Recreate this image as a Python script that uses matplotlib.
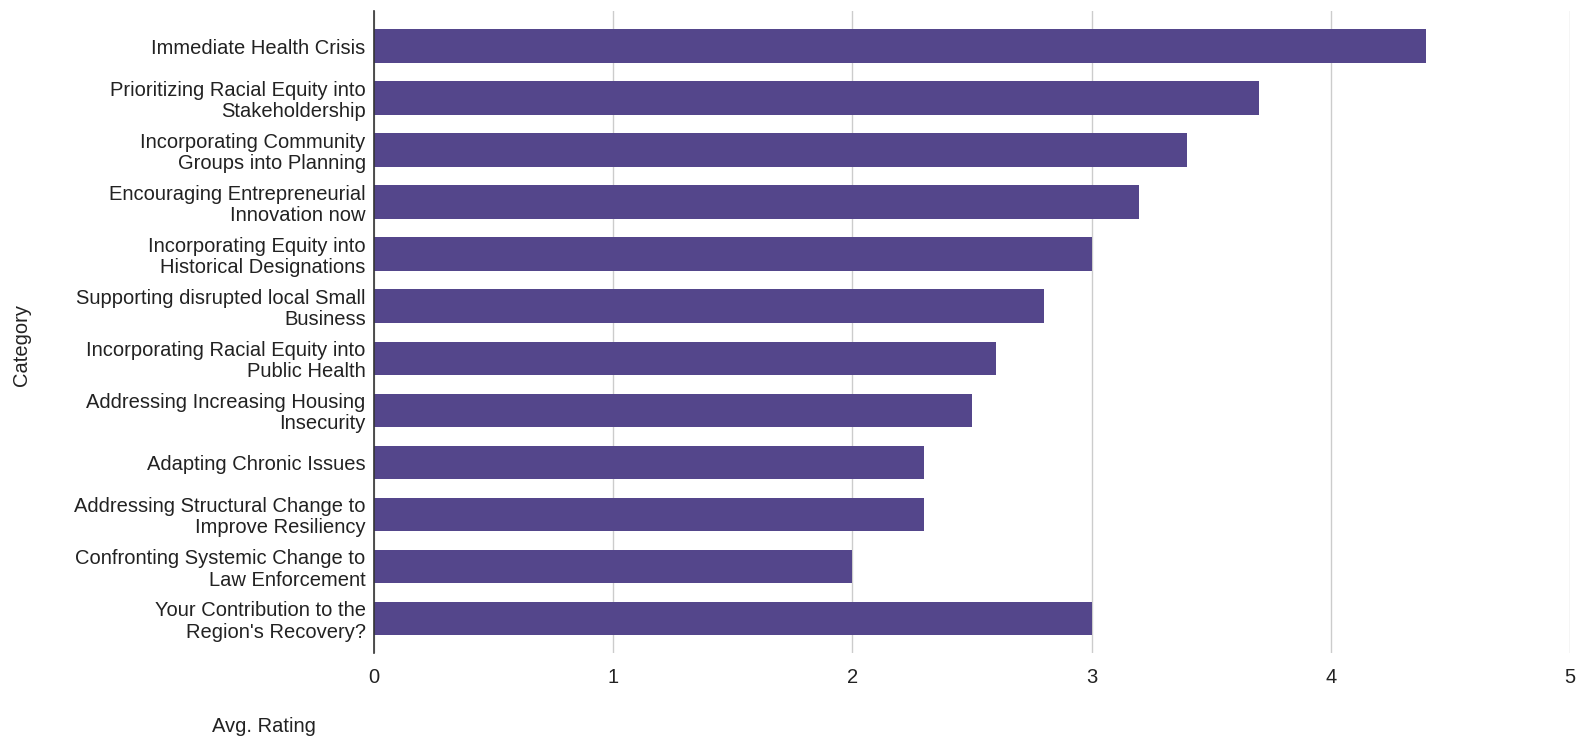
import matplotlib
matplotlib.use("Agg")
import matplotlib.pyplot as plt

categories = [
    "Immediate Health Crisis",
    "Prioritizing Racial Equity into\nStakeholdership",
    "Incorporating Community\nGroups into Planning",
    "Encouraging Entrepreneurial\nInnovation now",
    "Incorporating Equity into\nHistorical Designations",
    "Supporting disrupted local Small\nBusiness",
    "Incorporating Racial Equity into\nPublic Health",
    "Addressing Increasing Housing\nInsecurity",
    "Adapting Chronic Issues",
    "Addressing Structural Change to\nImprove Resiliency",
    "Confronting Systemic Change to\nLaw Enforcement",
    "Your Contribution to the\nRegion's Recovery?",
]
values = [4.4, 3.7, 3.4, 3.2, 3.0, 2.8, 2.6, 2.5, 2.3, 2.3, 2.0, 3.0]
xticks = [0, 1, 2, 3, 4, 5]

plt.rcParams['font.family'] = ['Liberation Sans', 'DejaVu Sans']

fig = plt.figure(figsize=(15.8, 7.38), dpi=100)
ax = fig.add_axes([374/1580, 1 - 653/738, (1570 - 374)/1580, (653 - 11)/738])

ypos = list(range(len(categories)))
ax.barh(ypos, values, height=0.64, color='#54468b', linewidth=0, zorder=3)
ax.set_ylim(len(categories) - 0.5 + 0.167, -0.5 - 0.173)
ax.set_xlim(0, 5)
ax.set_yticks(ypos)
ax.set_yticklabels(categories, fontsize=14.5, color='#222222', linespacing=1.15)
ax.set_xticks(xticks)
ax.set_xticklabels([str(t) for t in xticks], fontsize=14.5, color='#222222')
ax.tick_params(axis='y', length=0, pad=6)
ax.tick_params(axis='x', length=0, pad=11)
ax.grid(axis='x', color='#cccccc', linewidth=1, zorder=0)
for s in ['top', 'right', 'bottom']:
    ax.spines[s].set_visible(False)
ax.spines['left'].set_color('#333333')
ax.spines['left'].set_linewidth(1.2)
ax.spines['left'].set_zorder(4)

fig.text(21/1580, 1 - 345/738, "Category", rotation=90, ha='center', va='center',
         fontsize=14.5, color='#222222')
fig.text(264/1580, 1 - 727/738, "Avg. Rating", ha='center', va='center',
         fontsize=14.5, color='#222222')

fig.savefig("out.png", dpi=100)
